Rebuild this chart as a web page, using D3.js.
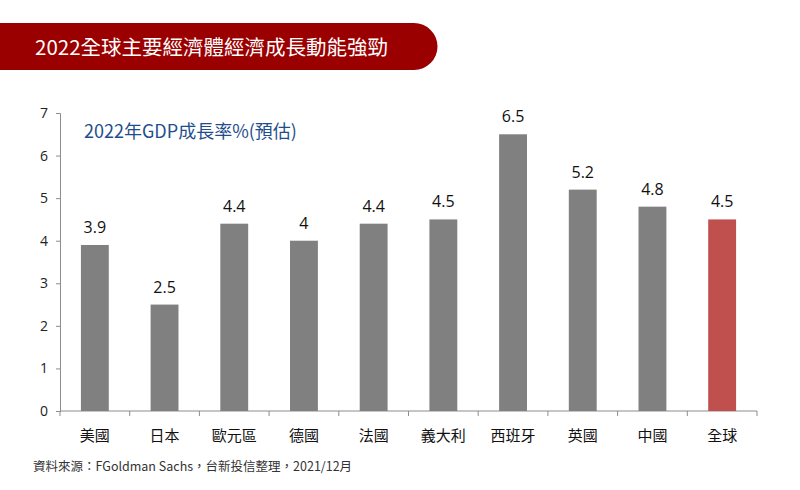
<!DOCTYPE html>
<html>
<head>
<meta charset="utf-8">
<script src="https://cdn.jsdelivr.net/npm/d3@7"></script>
<style>
  body { margin: 0; background: #fff; }
  svg { font-family: "Noto Sans CJK TC", "Noto Sans", sans-serif; }
</style>
</head>
<body>
<div id="chart"></div>
<script>
// data
const categories = ["美國", "日本", "歐元區", "德國", "法國", "義大利", "西班牙", "英國", "中國", "全球"];
const growth = [3.9, 2.5, 4.4, 4, 4.4, 4.5, 6.5, 5.2, 4.8, 4.5];
const yTicks = [0, 1, 2, 3, 4, 5, 6, 7];

const W = 800, H = 490;
const margin = { top: 113, right: 43, bottom: 79, left: 60 };
const width = W - margin.left - margin.right;
const height = H - margin.top - margin.bottom;

const svg = d3.select("#chart").append("svg")
  .attr("width", W)
  .attr("height", H);

// title banner
svg.append("path")
  .attr("d", `M0,23 H414 A23.5,23.5 0 0 1 414,70 H0 Z`)
  .attr("fill", "#9b0000");

svg.append("text")
  .attr("x", 35)
  .attr("y", 55)
  .attr("fill", "#fff")
  .style("font-size", "20.5px")
  .text("2022全球主要經濟體經濟成長動能強勁");

const g = svg.append("g")
  .attr("transform", `translate(${margin.left},${margin.top})`);

const x = d3.scaleBand()
  .domain(categories)
  .range([0, width])
  .paddingInner(0.6)
  .paddingOuter(0.3);

const y = d3.scaleLinear()
  .domain([0, 7])
  .range([height, 0]);

// y axis
const yAxis = g.append("g")
  .call(d3.axisLeft(y).tickValues(yTicks).tickSize(4).tickPadding(8).tickFormat(d3.format("d")));
yAxis.select(".domain").attr("stroke", "#8c8c8c");
yAxis.selectAll(".tick line").attr("stroke", "#8c8c8c");
yAxis.selectAll("text")
  .attr("fill", "#222")
  .style("font-size", "14px")
  .style("font-family", "'Open Sans', sans-serif");

// x axis: ticks at band boundaries
const xAxis = g.append("g")
  .attr("transform", `translate(0,${height})`);
xAxis.append("line")
  .attr("x1", 0).attr("x2", width)
  .attr("stroke", "#8c8c8c");
xAxis.selectAll(".bound")
  .data(d3.range(categories.length + 1))
  .join("line")
  .attr("x1", i => i * width / categories.length)
  .attr("x2", i => i * width / categories.length)
  .attr("y1", 0).attr("y2", 5)
  .attr("stroke", "#8c8c8c");
xAxis.selectAll(".cat")
  .data(categories)
  .join("text")
  .attr("x", d => x(d) + x.bandwidth() / 2)
  .attr("y", 30)
  .attr("text-anchor", "middle")
  .attr("fill", "#111")
  .style("font-size", "15px")
  .text(d => d);

// bars
g.selectAll(".bar")
  .data(categories)
  .join("rect")
  .attr("x", d => x(d))
  .attr("y", (d, i) => y(growth[i]))
  .attr("width", x.bandwidth())
  .attr("height", (d, i) => height - y(growth[i]))
  .attr("fill", d => d === "全球" ? "#c0504d" : "#808080");

// value labels
g.selectAll(".val")
  .data(categories)
  .join("text")
  .attr("x", d => x(d) + x.bandwidth() / 2)
  .attr("y", (d, i) => y(growth[i]) - 12)
  .attr("text-anchor", "middle")
  .attr("fill", "#111")
  .style("font-size", "16px")
  .style("font-family", "'Open Sans', sans-serif")
  .text((d, i) => growth[i]);

// subtitle
svg.append("text")
  .attr("x", 84)
  .attr("y", 138)
  .attr("fill", "#1f4e8c")
  .style("font-size", "18px")
  .text("2022年GDP成長率%(預估)");

// source
svg.append("text")
  .attr("x", 33)
  .attr("y", 471)
  .attr("fill", "#333")
  .style("font-size", "12.5px")
  .text("資料來源：FGoldman Sachs，台新投信整理，2021/12月");
</script>
</body>
</html>
